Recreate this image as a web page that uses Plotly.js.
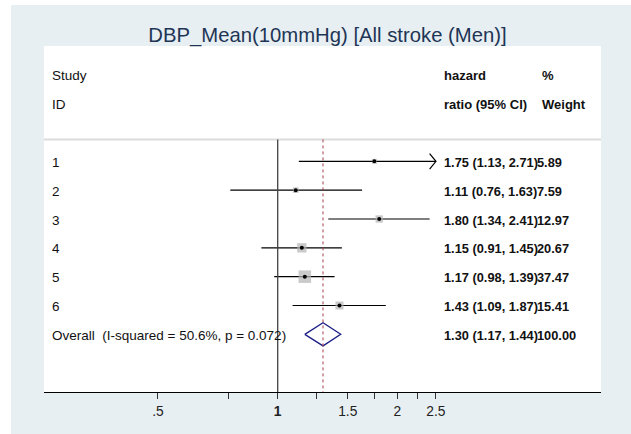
<!DOCTYPE html>
<html>
<head>
<meta charset="utf-8">
<script src="https://cdn.plot.ly/plotly-3.0.1.min.js"></script>
<style>html,body{margin:0;padding:0;background:#fff;}#chart{width:631px;height:434px;}</style>
</head>
<body>
<div id="chart"></div>
<script>
// ---- data ----
const studyIds   = ['1', '2', '3', '4', '5', '6'];
const hazardRatio = [1.75, 1.11, 1.80, 1.15, 1.17, 1.43];
const ciLower    = [1.13, 0.76, 1.34, 0.91, 0.98, 1.09];
const ciUpper    = [2.71, 1.63, 2.41, 1.45, 1.39, 1.87];
const weights    = [5.89, 7.59, 12.97, 20.67, 37.47, 15.41];
const overallLabel = 'Overall  (I-squared = 50.6%, p = 0.072)';
const overallHR    = 1.30;
const overallLower = 1.17;
const overallUpper = 1.44;
const overallWeight = 100.00;
const tickValues = [0.5, 0.75, 1, 1.25, 1.5, 1.75, 2, 2.25, 2.5];
const tickLabels = ['.5', '', '<b>1</b>', '', '1.5', '', '2', '', '2.5'];
const titleText = 'DBP_Mean(10mmHg) [All stroke (Men)]';

// ---- build ----
const FONT = 'Liberation Sans, Arial, Helvetica, sans-serif';
const rows = studyIds.map((_, i) => i + 1);
const overallRow = studyIds.length + 1;
const clipMax = Math.max(...tickValues);

const ciX = [], ciY = [];
rows.forEach((r, i) => {
  ciX.push(ciLower[i], Math.min(ciUpper[i], clipMax), null);
  ciY.push(r, r, null);
});

const traces = [];
traces.push({type: 'scatter', mode: 'lines', x: ciX, y: ciY,
  line: {color: '#000', width: 1.2}, hoverinfo: 'skip', showlegend: false});

// arrows for clipped CIs
rows.forEach((r, i) => {
  if (ciUpper[i] > clipMax) {
    const back = clipMax / Math.pow(10, 0.016);
    traces.push({type: 'scatter', mode: 'lines',
      x: [back, clipMax, back], y: [r - 0.27, r, r + 0.27],
      line: {color: '#000', width: 1.2}, hoverinfo: 'skip', showlegend: false});
  }
});

traces.push({type: 'scatter', mode: 'markers', x: hazardRatio, y: rows,
  marker: {symbol: 'square', color: '#b4b4b4', size: weights.map(w => 2.05 * Math.sqrt(w)), line: {width: 0}},
  hoverinfo: 'skip', showlegend: false});
traces.push({type: 'scatter', mode: 'markers', x: hazardRatio, y: rows,
  marker: {symbol: 'circle', color: '#000', size: 4}, hoverinfo: 'skip', showlegend: false});

traces.push({type: 'scatter', mode: 'lines',
  x: [overallLower, overallHR, overallUpper, overallHR, overallLower],
  y: [overallRow, overallRow - 0.4, overallRow, overallRow + 0.4, overallRow],
  line: {color: '#1b1f86', width: 1.3}, hoverinfo: 'skip', showlegend: false});

const fmt = v => v.toFixed(2);
const ann = [];
const leftX = 0.0115, esX = 0.714, wX = 0.882;
function addText(x, y, text, size, bold) {
  ann.push({xref: 'paper', yref: 'y', x: x, y: y, xanchor: 'left', yanchor: 'middle',
    text: bold ? '<b>' + text + '</b>' : text, showarrow: false,
    font: {family: FONT, size: size, color: '#111'}});
}
addText(leftX, -1.96, 'Study', 13.5, false);
addText(leftX, -0.98, 'ID', 13.5, false);
addText(esX, -1.96, 'hazard', 13, true);
addText(esX, -0.98, 'ratio (95% CI)', 13, true);
addText(wX + 0.008, -1.96, '%', 13, true);
addText(wX + 0.008, -0.98, 'Weight', 13, true);

rows.forEach((r, i) => {
  addText(leftX, r + 0.04, studyIds[i], 13.5, false);
  addText(esX, r + 0.04, fmt(hazardRatio[i]) + ' (' + fmt(ciLower[i]) + ', ' + fmt(ciUpper[i]) + ')', 12.8, true);
  addText(wX, r + 0.04, fmt(weights[i]), 12.8, true);
});
addText(leftX, overallRow + 0.04, overallLabel, 13.5, false);
addText(esX, overallRow + 0.04, fmt(overallHR) + ' (' + fmt(overallLower) + ', ' + fmt(overallUpper) + ')', 12.8, true);
addText(wX, overallRow + 0.04, fmt(overallWeight), 12.8, true);

const sepY = 0.24;
const shapes = [
  {type: 'rect', xref: 'paper', yref: 'paper', x0: -33 / 557, x1: 587 / 557, y0: -42 / 346, y1: 387 / 346,
    fillcolor: '#e8eff2', line: {width: 0}, layer: 'below'},
  {type: 'rect', xref: 'paper', yref: 'paper', x0: 0, x1: 1, y0: 0, y1: 1,
    fillcolor: '#ffffff', line: {width: 0}, layer: 'below'},
  {type: 'line', xref: 'paper', yref: 'y', x0: 0, x1: 1, y0: sepY, y1: sepY,
    line: {color: '#dcdcdc', width: 2}},
  {type: 'line', xref: 'x', yref: 'y', x0: 1, x1: 1, y0: sepY, y1: 9,
    line: {color: '#444', width: 1.3}},
  {type: 'line', xref: 'x', yref: 'y', x0: overallHR, x1: overallHR, y0: sepY, y1: 9,
    line: {color: '#a8404f', width: 1, dash: '3px,3px'}}
];

const layout = {
  width: 631, height: 434,
  margin: {l: 44, r: 30, t: 46, b: 42, pad: 0},
  paper_bgcolor: '#ffffff', plot_bgcolor: 'rgba(0,0,0,0)',
  font: {family: FONT, color: '#111'},
  title: {text: titleText, font: {family: FONT, size: 20.3, color: '#1e3556'},
    x: 0.519, xanchor: 'center', xref: 'container', y: 1 - 34.5 / 434, yanchor: 'middle', yref: 'container'},
  xaxis: {type: 'log', range: [-0.5876, 0.8129], showgrid: false, zeroline: false,
    showline: true, linecolor: '#000', linewidth: 1.3, mirror: false,
    ticks: 'outside', ticklen: 6, tickwidth: 1, tickcolor: '#333',
    tickmode: 'array', tickvals: tickValues, ticktext: tickLabels,
    tickfont: {family: FONT, size: 13.8, color: '#222'}, fixedrange: true},
  yaxis: {range: [9, -3], visible: false, showgrid: false, zeroline: false, fixedrange: true},
  shapes: shapes,
  annotations: ann,
  showlegend: false
};

Plotly.newPlot('chart', traces, layout, {staticPlot: true, displayModeBar: false});
</script>
</body>
</html>
